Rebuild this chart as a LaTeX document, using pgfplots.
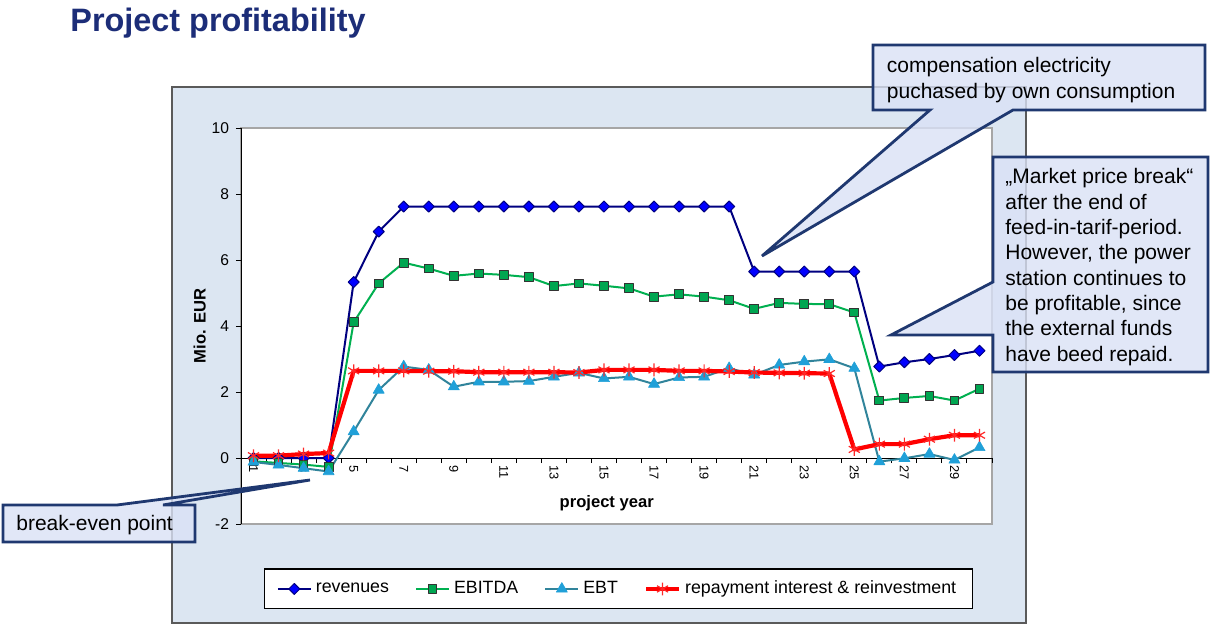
\documentclass[border=0pt]{standalone}
\usepackage{fontspec}
\setmainfont{Liberation Sans}
\usepackage{pgfplots}
\usepackage{pgfplotstable}
\pgfplotsset{compat=1.18}
\definecolor{titleblue}{RGB}{28,45,120}
\definecolor{chartbg}{RGB}{220,230,242}
\definecolor{chartborder}{RGB}{90,90,90}
\definecolor{callfill}{RGB}{218,225,246}
\definecolor{callborder}{RGB}{31,56,112}
\definecolor{navyline}{RGB}{0,0,128}
\definecolor{diamondblue}{RGB}{0,0,255}
\definecolor{greenline}{RGB}{0,176,80}
\definecolor{greenfill}{RGB}{0,166,81}
\definecolor{tealline}{RGB}{49,132,155}
\definecolor{ebtfill}{RGB}{32,160,216}
\definecolor{redmark}{RGB}{255,40,40}

\pgfplotstableread{
x rev ebitda ebt rep
1 0 -0.10 -0.12 0.07
2 0 -0.15 -0.21 0.07
3 0 -0.20 -0.31 0.12
4 0 -0.27 -0.41 0.15
5 5.33 4.11 0.80 2.64
6 6.86 5.29 2.06 2.64
7 7.62 5.92 2.77 2.64
8 7.62 5.74 2.67 2.63
9 7.62 5.52 2.16 2.63
10 7.62 5.59 2.31 2.60
11 7.62 5.55 2.31 2.60
12 7.62 5.48 2.33 2.60
13 7.62 5.21 2.46 2.60
14 7.62 5.29 2.58 2.59
15 7.62 5.22 2.41 2.67
16 7.62 5.14 2.46 2.67
17 7.62 4.89 2.24 2.67
18 7.62 4.96 2.44 2.64
19 7.62 4.89 2.46 2.64
20 7.62 4.78 2.72 2.62
21 5.65 4.52 2.52 2.59
22 5.65 4.70 2.82 2.58
23 5.65 4.67 2.92 2.57
24 5.65 4.66 2.99 2.56
25 5.65 4.41 2.72 0.26
26 2.77 1.74 -0.11 0.42
27 2.90 1.82 -0.01 0.42
28 3.00 1.88 0.12 0.57
29 3.12 1.74 -0.06 0.69
30 3.25 2.10 0.32 0.69
}\datatable

\begin{document}
\begin{tikzpicture}
\begin{scope}[x=0.5pt,y=-0.5pt]
\useasboundingbox (0,0) rectangle (1212,626);
\fill[white] (0,0) rectangle (1212,626);
\node[anchor=base west, inner sep=0, text=titleblue, font=\fontsize{16.2}{19}\selectfont\bfseries] at (70,32) {Project profitability};
\filldraw[fill=chartbg, draw=chartborder, line width=0.6pt] (172,87) rectangle (1026,623);
\end{scope}

\begin{axis}[
  at={(120.5pt,-262pt)}, anchor=south west,
  width=375.5pt, height=198pt, scale only axis,
  xmin=0.5, xmax=30.5, ymin=-2, ymax=10,
  axis x line=middle, axis y line=left,
  axis line style={-, black, line width=0.5pt},
  axis background/.style={fill=white, draw=gray!70, line width=0.6pt},
  tick align=outside,
  xtick={1,3,...,29},
  major x tick style={draw=none},
  minor xtick={0.5,1.5,...,30.5},
  minor tick length=2.5pt, major tick length=2.5pt,
  tick style={black, line width=0.5pt},
  ytick={-2,0,...,10},
  hide obscured x ticks=false, hide obscured y ticks=false,
  xticklabel style={rotate=-90, anchor=west, font=\fontsize{6.4}{7}\selectfont, inner sep=1pt},
  yticklabel style={font=\fontsize{7.8}{9}\selectfont},
  /pgf/number format/assume math mode=true,
  xlabel={project year}, ylabel={Mio. EUR},
  every axis x label/.style={at={(axis description cs:0.487,0.053)}, anchor=center, font=\fontsize{8.3}{10}\selectfont\bfseries},
  every axis y label/.style={at={(axis description cs:-0.055,0.5)}, anchor=center, rotate=90, font=\fontsize{8.3}{10}\selectfont\bfseries},
  clip=false,
  legend columns=4,
  legend style={at={(axis description cs:0.5027,-0.164)}, anchor=center, draw=black, fill=white, line width=0.6pt,
    font=\fontsize{8.9}{10.5}\selectfont, inner xsep=6pt, inner ysep=4pt,
    /tikz/every even column/.append style={column sep=11pt}},
  legend image code/.code={
    \draw[mark repeat=2,mark phase=2,#1] plot coordinates {(0pt,0pt) (8.25pt,0pt) (16.5pt,0pt)};
  },
]
\addplot[navyline, line width=1pt, line join=round, mark=square*, mark size=1.95pt,
  mark options={rotate=45, fill=diamondblue, draw=navyline, line width=0.5pt}]
  table[x=x,y=rev]{\datatable};
\addlegendentry{revenues}
\addplot[greenline, line width=1pt, line join=round, mark=square*, mark size=2.2pt,
  mark options={fill=greenfill, draw=black!80, line width=0.5pt}]
  table[x=x,y=ebitda]{\datatable};
\addlegendentry{EBITDA}
\addplot[tealline, line width=1pt, line join=round, mark=triangle*, mark size=3.2pt,
  mark options={fill=ebtfill, draw=ebtfill, line width=0.3pt}]
  table[x=x,y=ebt]{\datatable};
\addlegendentry{EBT}
\addplot[red, line width=2.1pt, line join=round, mark=asterisk, mark size=3.2pt,
  mark options={draw=redmark, line width=0.6pt}]
  table[x=x,y=rep]{\datatable};
\addlegendentry{repayment interest \& reinvestment}
\end{axis}

\begin{scope}[x=0.5pt,y=-0.5pt]
\filldraw[fill=callfill, fill opacity=0.8, draw=callborder, line width=1.4pt, line join=miter]
  (873,45) -- (1205,45) -- (1205,110) -- (1013,110) -- (762,256) -- (930,110) -- (873,110) -- cycle;
\filldraw[fill=callfill, fill opacity=0.8, draw=callborder, line width=1.4pt, line join=miter]
  (993,157) -- (1208,157) -- (1208,372) -- (993,372) -- (993,335) -- (891,335) -- (993,282) -- cycle;
\filldraw[fill=callfill, fill opacity=0.8, draw=callborder, line width=1.4pt, line join=miter]
  (3,505) -- (117,505) -- (310,480) -- (163,505) -- (195,505) -- (195,542) -- (3,542) -- cycle;
\begin{scope}[every node/.style={anchor=base west, inner sep=0, font=\fontsize{10.5}{12.6}\selectfont}]
\node at (886.5,73) {compensation electricity};
\node at (886.5,99) {puchased by own consumption};
\node at (1005,184) {„Market price break“};
\node at (1005,209.3) {after the end of};
\node at (1005,234.6) {feed-in-tarif-period.};
\node at (1005,260) {However, the power};
\node at (1005,285.2) {station continues to};
\node at (1005,310.5) {be profitable, since};
\node at (1005,335.8) {the external funds};
\node at (1005,361) {have beed repaid.};
\node at (16,530.5) {break-even point};
\end{scope}
\end{scope}
\end{tikzpicture}
\end{document}
